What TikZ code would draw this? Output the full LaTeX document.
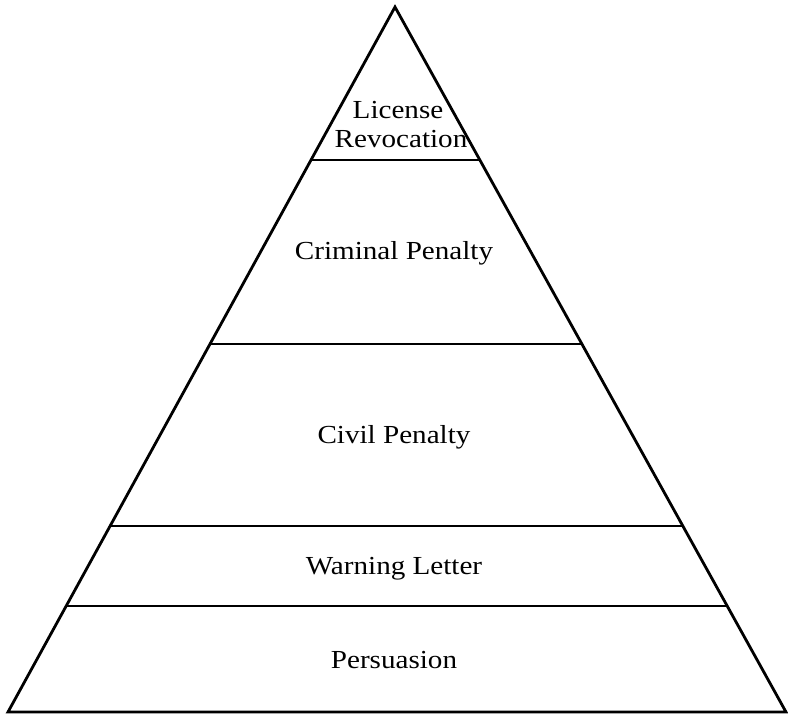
\documentclass[tikz,border=0pt]{standalone}
\usepackage{fontspec}
\setmainfont{Liberation Serif}[FakeStretch=1.12]
\usetikzlibrary{calc}
\begin{document}
\begin{tikzpicture}[x=1pt,y=-1pt,
  edge/.style={line width=2.8pt,line join=miter},
  lvl/.style={font=\fontsize{26}{30}\selectfont,inner sep=0pt,anchor=base}]
\useasboundingbox (0,0) rectangle (788,715);
\coordinate (apex) at (395,7);
\coordinate (bl) at (8,712);
\coordinate (br) at (786,712);
\draw[edge] (bl) -- (apex) -- (br) -- cycle;
\foreach \y/\n in {160/a,344/b,526/c,606/d}{
  \coordinate (l\n) at ($(apex)!{(\y-7)/705}!(bl)$);
  \coordinate (r\n) at ($(apex)!{(\y-7)/705}!(br)$);
  \draw[edge] (l\n) -- (r\n);
}
\node[lvl] (lic) at (398,118) {License};
\node[lvl] (rev) at (401,147) {Revocation};
\node[lvl] (crim) at (394,259) {Criminal Penalty};
\node[lvl] (civ) at (394,443) {Civil Penalty};
\node[lvl] (warn) at (394,574) {Warning Letter};
\node[lvl] (pers) at (394,668) {Persuasion};
\end{tikzpicture}
\end{document}
